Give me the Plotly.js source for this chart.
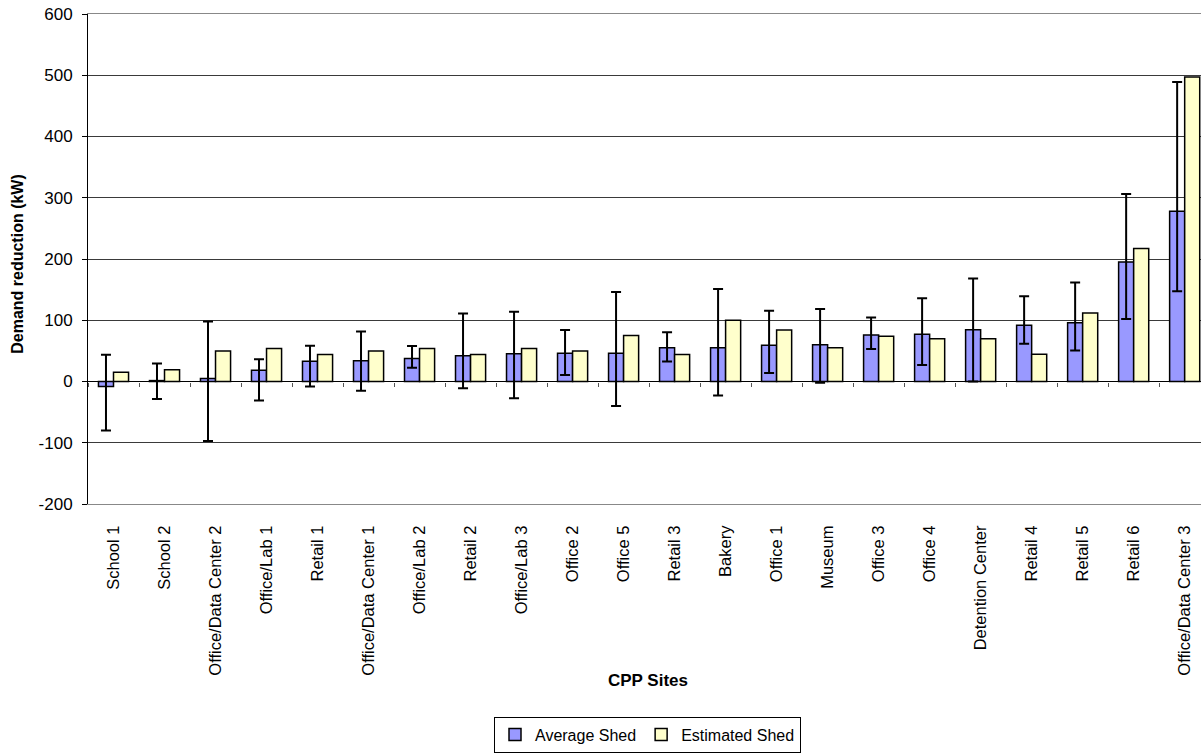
<!DOCTYPE html>
<html>
<head>
<meta charset="utf-8">
<script src="https://cdn.plot.ly/plotly-3.0.1.min.js"></script>
<style>html,body{margin:0;padding:0;background:#fff;}#chart{width:1201px;height:753px;}</style>
</head>
<body>
<div id="chart"></div>
<script>
const categories = ["School 1","School 2","Office/Data Center 2","Office/Lab 1","Retail 1","Office/Data Center 1","Office/Lab 2","Retail 2","Office/Lab 3","Office 2","Office 5","Retail 3","Bakery","Office 1","Museum","Office 3","Office 4","Detention Center","Retail 4","Retail 5","Retail 6","Office/Data Center 3"];
const averageShed = [-8, 1.5, 5, 18.5, 33, 34, 37.5, 42, 45.5, 46, 46, 55, 55, 59, 60, 76, 77, 84.5, 92, 96, 195, 278];
const estimatedShed = [15, 19, 50, 54, 44, 50, 54, 44, 54, 50, 75, 44, 100, 84, 55, 74, 70, 70, 44.5, 112, 217, 497];
const errorHigh = [43.5, 29.5, 98, 36.5, 58.5, 81.5, 58, 111, 114, 84, 146, 80.5, 151, 115.5, 118.5, 104.5, 136, 168, 139, 161.5, 306, 489];
const errorLow = [-80, -28.5, -97, -31, -8, -15, 22.5, -11, -27.5, 10.5, -40, 32.5, -23, 14, -2, 53, 27, 0, 61.5, 50.5, 102, 147.5];
const seriesNames = ["Average Shed", "Estimated Shed"];
const yTickValues = [-200, -100, 0, 100, 200, 300, 400, 500, 600];
const yTickLabels = ["-200", "-100", "0", "100", "200", "300", "400", "500", "600"];
const xTitle = "CPP Sites";
const yTitle = "Demand reduction (kW)";

const font = "Liberation Sans, Arial, sans-serif";
const errPlus = averageShed.map((v, i) => errorHigh[i] - v);
const errMinus = averageShed.map((v, i) => v - errorLow[i]);
const xRange = [-0.5, 21.32];

const traces = [
  {
    type: "bar", name: seriesNames[0], x: categories, y: averageShed,
    marker: {color: "#9999FF", line: {color: "#000000", width: 1.5}},
    error_y: {type: "data", symmetric: false, array: errPlus, arrayminus: errMinus,
              color: "#000000", thickness: 2, width: 5},
    hoverinfo: "x+y"
  },
  {
    type: "bar", name: seriesNames[1], x: categories, y: estimatedShed,
    marker: {color: "#FFFFCC", line: {color: "#000000", width: 1.5}},
    hoverinfo: "x+y"
  },
  {
    type: "scatter", mode: "markers", x: categories, y: categories.map(() => null),
    xaxis: "x2", showlegend: false, hoverinfo: "skip"
  }
];

const layout = {
  width: 1201, height: 753,
  margin: {l: 88, r: 0, t: 14, b: 236},
  paper_bgcolor: "#ffffff", plot_bgcolor: "#ffffff",
  font: {family: font, size: 16, color: "#000000"},
  barmode: "group", bargap: 0.41, bargroupgap: 0,
  showlegend: true,
  legend: {
    orientation: "h", x: 0.5027, xanchor: "center", y: -0.434, yanchor: "top",
    bordercolor: "#000000", borderwidth: 1, font: {family: font, size: 16},
    traceorder: "normal", itemwidth: 30
  },
  xaxis: {
    type: "category", categoryorder: "array", categoryarray: categories,
    range: xRange, showgrid: false, zeroline: false,
    showline: true, linecolor: "#888888", linewidth: 1, mirror: true,
    ticks: "", tickangle: -90, tickfont: {family: font, size: 16.5},
    ticklabelstandoff: 14, automargin: false
  },
  xaxis2: {
    type: "category", categoryorder: "array", categoryarray: categories,
    range: xRange, overlaying: "x", anchor: "free", position: 0.25, side: "bottom",
    showgrid: false, zeroline: false, showline: false,
    ticks: "outside", ticklen: 4, tickcolor: "#555555", tickson: "boundaries",
    showticklabels: false, automargin: false
  },
  yaxis: {
    range: [-200, 600], tickmode: "array", tickvals: yTickValues, ticktext: yTickLabels,
    showgrid: true, gridcolor: "#3a3a3a", gridwidth: 1,
    zeroline: true, zerolinecolor: "#000000", zerolinewidth: 1,
    showline: true, linecolor: "#000000", linewidth: 1,
    ticks: "outside", ticklen: 5, tickcolor: "#000000",
    tickfont: {family: font, size: 17}, ticklabelstandoff: 6,
    automargin: false
  },
  annotations: [
    {text: "<b>" + xTitle + "</b>", xref: "paper", yref: "paper", x: 0.503, y: -0.36,
     xanchor: "center", yanchor: "middle", showarrow: false, font: {family: font, size: 17}},
    {text: "<b>" + yTitle + "</b>", xref: "paper", yref: "paper", x: -0.063, y: 0.49,
     xanchor: "center", yanchor: "middle", textangle: -90, showarrow: false, font: {family: font, size: 16}}
  ]
};

Plotly.newPlot("chart", traces, layout, {displayModeBar: false, staticPlot: true});
</script>
</body>
</html>
